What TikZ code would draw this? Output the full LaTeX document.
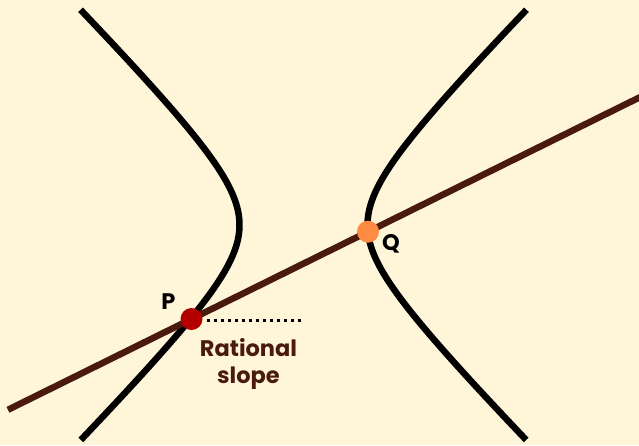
\documentclass[tikz,border=0pt]{standalone}
\usepackage{fontspec}
\setmainfont{Poppins}
\usetikzlibrary{calc}
\definecolor{bg}{HTML}{FFF6DA}
\definecolor{brownline}{HTML}{4A1A0E}
\definecolor{pred}{HTML}{B30000}
\definecolor{qorange}{HTML}{FF8C42}
\begin{document}
\begin{tikzpicture}[x=1pt,y=-1pt,
  curve/.style={line width=6.5pt,black},
  secant/.style={line width=6.5pt,brownline},
  dotline/.style={line width=3pt,black,dash pattern=on 3pt off 4pt},
  ptdot/.style={circle,minimum size=22pt,inner sep=0pt},
  lbl/.style={font=\bfseries\fontsize{22.5}{27}\selectfont,inner sep=0pt}]
\fill[bg] (0,0) rectangle (639,445);
\useasboundingbox (0,0) rectangle (639,445);
% hyperbola
\draw[curve] plot[domain=-1.92:1.92,samples=120,variable=\t] ({303.5-64*cosh(\t)},{225+64.5*sinh(\t)});
\draw[curve] plot[domain=-1.92:1.92,samples=120,variable=\t] ({303.5+64*cosh(\t)},{225+64.5*sinh(\t)});
% points
\coordinate (P) at (191.5,319);
\coordinate (Q) at (368,231.7);
\draw[secant] ($(P)!-1.04!(Q)$) -- ($(P)!2.6!(Q)$);
\coordinate (D) at (303,320);
\node[ptdot,fill=pred] (Pdot) at (P) {};
\node[ptdot,fill=qorange] (Qdot) at (Q) {};
\draw[dotline] (Pdot.east |- D) ++(4,0) -- (D);
\node[lbl] (Plabel) at (168.5,301.5) {P};
\node[lbl] (Qlabel) at (391,244) {Q};
\node[lbl,text=brownline,align=center,anchor=base] (rs) at (248.5,383) {Rational\\slope};
\end{tikzpicture}
\end{document}
